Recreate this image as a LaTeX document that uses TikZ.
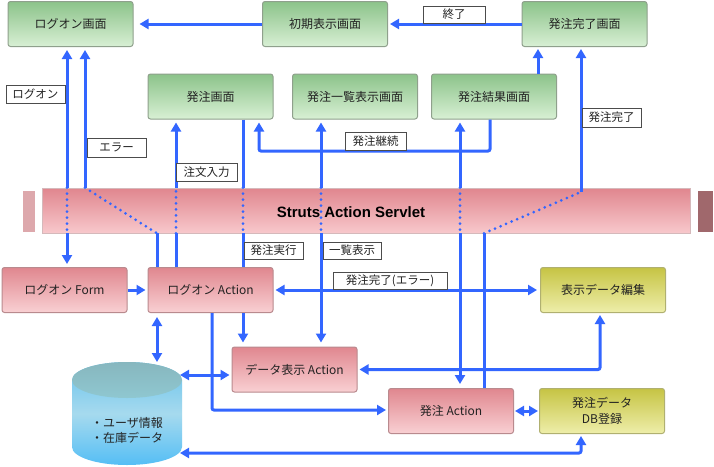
\documentclass[tikz,border=0pt]{standalone}
\usepackage{fontspec}
\setmainfont{Noto Sans CJK JP}
\newfontfamily\barfont{Liberation Sans}
\usetikzlibrary{arrows.meta,calc}
\definecolor{flowblue}{HTML}{3366FF}
\definecolor{gtop}{HTML}{8CC38A}
\definecolor{gbot}{HTML}{D8F0D4}
\definecolor{gdraw}{HTML}{8FA08C}
\definecolor{ptop}{HTML}{E0878F}
\definecolor{pbot}{HTML}{F9D0D3}
\definecolor{pdraw}{HTML}{B98A8E}
\definecolor{ytop}{HTML}{C6C444}
\definecolor{ybot}{HTML}{EEEEAA}
\definecolor{ydraw}{HTML}{B0B070}
\definecolor{bartop}{HTML}{E0868E}
\definecolor{barbot}{HTML}{F8C8CC}
\definecolor{stubl}{HTML}{DDA8AC}
\definecolor{stubr}{HTML}{A0686C}
\definecolor{cyltop}{HTML}{8FC7D0}
\definecolor{cylA}{HTML}{68C2EC}
\definecolor{cylB}{HTML}{A6DAEE}
\definecolor{cylC}{HTML}{55BEF5}
\definecolor{txt}{HTML}{222222}
\tikzset{
  boxbase/.style={line width=1pt, rounded corners=2.5pt, minimum width=125pt, minimum height=45pt,
    font=\fontsize{12}{16}\selectfont, text=txt, inner sep=0pt},
  scr/.style={boxbase, draw=gdraw, top color=gtop, bottom color=gbot},
  act/.style={boxbase, draw=pdraw, top color=ptop, bottom color=pbot},
  yel/.style={boxbase, draw=ydraw, top color=ytop, bottom color=ybot},
  lbl/.style={draw=black!70, line width=0.7pt, fill=white, font=\fontsize{11.5}{13}\selectfont,
    text=txt, inner sep=0pt, minimum height=17pt},
  flow/.style={draw=flowblue, line width=3pt},
  dots/.style={draw=flowblue, line width=3pt, line cap=round, dash pattern=on 0pt off 6pt},
}
\begin{document}
\begin{tikzpicture}[x=1pt,y=-1pt,>={Triangle[length=9pt,width=10pt]}]
\useasboundingbox (0,0) rectangle (714,466);
\fill[white] (0,0) rectangle (714,466);

% servlet bar
\fill[stubl] (23,191) rectangle (35,232);
\fill[stubr] (698,191) rectangle (713,232);
\node[minimum width=648pt, minimum height=45pt, top color=bartop, bottom color=barbot, draw=pdraw!60, line width=0.6pt, inner sep=0pt] (bar) at (366,210.5) {};
\node[font=\barfont\bfseries\fontsize{15}{18}\selectfont] (bartext) at (351,212) {Struts Action Servlet};

% screens
\node[scr] (login) at (70.5,24) {ログオン画面};
\node[scr] (init) at (325,24) {初期表示画面};
\node[scr] (done) at (584.5,24) {発注完了画面};
\node[scr] (order) at (210.5,96.5) {発注画面};
\node[scr] (list) at (355,96.5) {発注一覧表示画面};
\node[scr] (result) at (494,96.5) {発注結果画面};

% actions
\node[act] (form) at (64.5,290) {ログオン Form};
\node[act] (laction) at (210.5,290) {ログオン Action};
\node[yel] (edit) at (603,290) {表示データ編集};
\node[act] (daction) at (294.5,369.5) {データ表示 Action};
\node[act] (oaction) at (451,411) {発注 Action};
\node[yel, align=center] (dbreg) at (602,411) {発注データ\\DB登録};

% database cylinder
\path[top color=cylA, bottom color=cylC, middle color=cylB]
  (72,380) -- (72,447) arc[start angle=180, end angle=360, x radius=55pt, y radius=18pt]
  -- (182,380) arc[start angle=0, end angle=180, x radius=55pt, y radius=18pt] -- cycle;
\path[top color=cyltop!90!black!95, bottom color=cyltop] (127,380) ellipse[x radius=55pt, y radius=18pt];
\node[font=\fontsize{12}{15}\selectfont, text=txt, align=left] (db) at (127,430) {・ユーザ情報\\・在庫データ};
\coordinate (dbT) at (157,362);
\coordinate (dbR1) at (180,375);
\coordinate (dbR2) at (180,453);

% lanes
\coordinate (xA) at (67,0);
\coordinate (xB) at (85,0);
\coordinate (xC) at (157,0);
\coordinate (xD) at (176,0);
\coordinate (xE) at (243,0);
\coordinate (xF) at (321,0);
\coordinate (xG) at (259,0);
\coordinate (xH) at (490,0);
\coordinate (xI) at (460,0);
\coordinate (xJ) at (538,0);
\coordinate (xK) at (484,0);
\coordinate (xL) at (581,0);
\coordinate (xM) at (212,0);
\coordinate (xN) at (600,0);
\coordinate (cont) at (0,151);
\coordinate (dk) at (581,192);
\coordinate (yO) at (0,410);

% top row
\draw[flow,->,shorten >=6pt] (init.west) -- (login.east);
\draw[flow,->,shorten >=2pt] (done.west) -- (init.east);

% ログオン
\draw[flow,<-,shorten <=3pt] (xA |- login.south) -- (xA |- bar.north);
\draw[dots] (xA |- bar.north) -- (xA |- bar.south);
\draw[flow,->,shorten >=3pt] (xA |- bar.south) -- (xA |- form.north);

% エラー
\draw[flow,<-,shorten <=3pt] (xB |- login.south) -- (xB |- bar.north);
\draw[dots] (xB |- bar.north) -- (xC |- bar.south);
\draw[flow] (xC |- bar.south) -- (xC |- laction.north);

% 注文入力
\draw[flow] (xD |- laction.north) -- (xD |- bar.south);
\draw[dots] (xD |- bar.south) -- (xD |- bar.north);
\draw[flow,->,shorten >=3pt] (xD |- bar.north) -- (xD |- order.south);

% 発注実行
\draw[flow] (xE |- order.south) -- (xE |- bar.north);
\draw[dots] (xE |- bar.north) -- (xE |- bar.south);
\draw[flow] (xE |- bar.south) -- (xE |- laction.north);
\draw[flow,->,shorten >=4pt] (xE |- laction.south) -- (xE |- daction.north);

% 一覧表示
\draw[flow,<-,shorten <=3pt] (xF |- list.south) -- (xF |- bar.north);
\draw[dots] (xF |- bar.north) -- (xF |- bar.south);
\draw[flow,->,shorten >=4pt] (xF |- bar.south) -- (xF |- daction.north);

% 発注継続
\draw[flow,->,shorten >=3pt,rounded corners=2pt] (xH |- result.south) -- (xH |- cont) -- (xG |- cont) -- (xG |- order.south);

% 発注結果 <-> 発注 Action
\draw[flow,<-,shorten <=3pt] (xI |- result.south) -- (xI |- bar.north);
\draw[dots] (xI |- bar.north) -- (xI |- bar.south);
\draw[flow,->,shorten >=4pt] (xI |- bar.south) -- (xI |- oaction.north);

% 発注結果 -> 発注完了画面
\draw[flow,->,shorten >=2pt] (xJ |- result.north) -- (xJ |- done.south);

% 発注完了
\draw[flow] (xK |- oaction.north) -- (xK |- bar.south);
\draw[dots] (xK |- bar.south) -- (dk);
\draw[flow,->,shorten >=2pt] (dk) -- (xL |- done.south);

% horizontal row of actions
\draw[flow,<->,shorten <=2pt,shorten >=3pt] (laction.east) -- (edit.west);
\draw[flow,->,shorten >=2pt] (form.east) -- (laction.west);

% database links
\draw[flow,<->,shorten <=4pt] (xC |- laction.south) -- (dbT);
\draw[flow,<->,shorten >=2pt] (dbR1) -- (daction.west |- dbR1);
\draw[flow,->,shorten >=2pt,rounded corners=2pt] (xM |- laction.south) -- (xM |- yO) -- (oaction.west |- yO);
\draw[flow,<->,shorten <=2pt,shorten >=2pt,rounded corners=2pt] (xN |- edit.south) -- (xN |- daction.east) -- (daction.east);
\draw[flow,<->,shorten <=1pt,shorten >=1pt] (oaction.east) -- (dbreg.west);
\draw[flow,<->,shorten >=2pt,rounded corners=2pt] (dbR2) -- (xL |- dbR2) -- (xL |- dbreg.south);

% labels
\node[lbl, minimum width=62pt] (lEnd) at (454,14.5) {終了};
\node[lbl, minimum width=59pt, minimum height=19pt] (lDone) at (611.5,117.5) {発注完了};
\node[lbl, minimum width=59pt, minimum height=18pt] (lLogon) at (35.5,94) {ログオン};
\node[lbl, minimum width=59pt, minimum height=19pt] (lErr) at (116.5,147.5) {エラー};
\node[lbl, minimum width=61pt, minimum height=18pt] (lInput) at (206.5,172) {注文入力};
\node[lbl, minimum width=61pt, minimum height=18pt] (lCont) at (375.5,141) {発注継続};
\node[lbl, minimum width=59pt] (lExec) at (273.5,250.5) {発注実行};
\node[lbl, minimum width=58pt] (lList) at (352,250.5) {一覧表示};
\node[lbl, minimum width=114pt] (lDoneErr) at (390,280.5) {発注完了(エラー)};
\end{tikzpicture}
\end{document}
